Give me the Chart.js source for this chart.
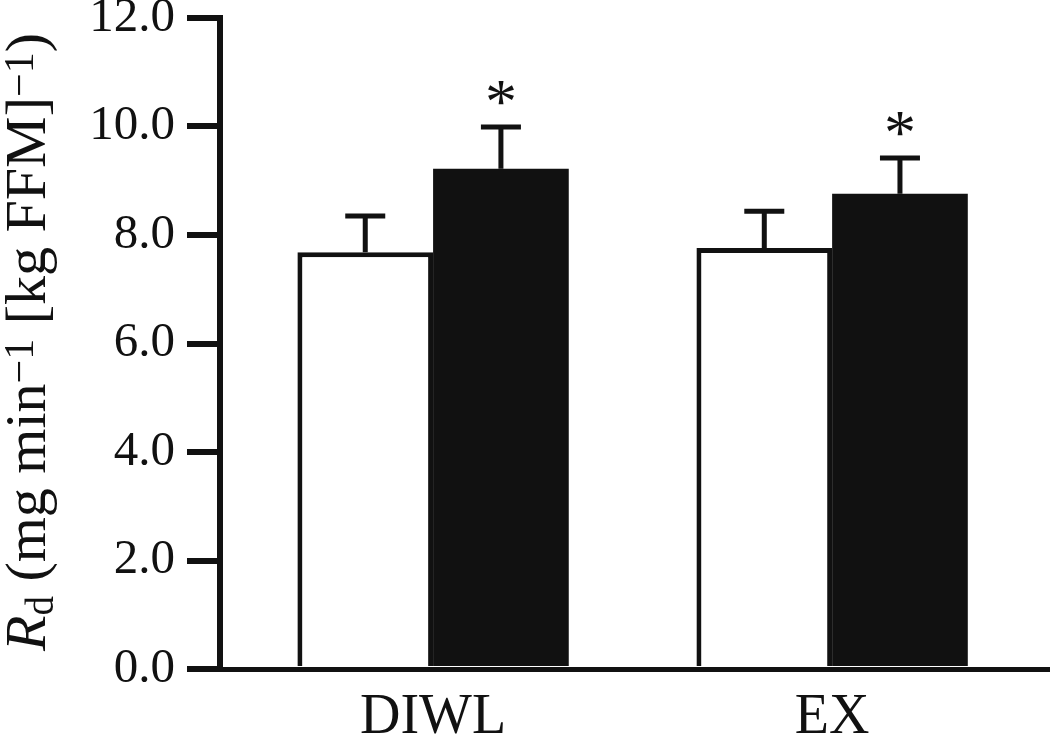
<!DOCTYPE html>
<html>
<head>
<meta charset="utf-8">
<script src="https://cdn.jsdelivr.net/npm/chart.js@4.4.1/dist/chart.umd.min.js"></script>
<style>
  html, body { margin: 0; padding: 0; background: #fff; font-family: 'Liberation Serif', serif; }
  #wrap { width: 1050px; height: 735px; position: relative; }
</style>
</head>
<body>
<div id="wrap"><canvas id="rdChart"></canvas></div>
<script>
// groups on the x axis
const categories = ['DIWL', 'EX'];
// open bars (before) and filled bars (after), mean and SD
const beforeMean = [7.68, 7.76];
const beforeSD = [0.67, 0.68];
const afterMean = [9.22, 8.76];
const afterSD = [0.77, 0.66];
// significance marks (*) over the filled bars
const beforeStar = [false, false];
const afterStar = [true, true];
const yTicks = [0, 2, 4, 6, 8, 10, 12];

const ink = '#111111';
const serif = '"Liberation Serif", "Times New Roman", Times, serif';

const toPoints = (vals) => vals.map((v, i) => ({ x: i + 1, y: v }));

// error bars (upper half only) + asterisks
const errorBars = {
  id: 'errorBars',
  afterDatasetsDraw(chart) {
    const ctx = chart.ctx;
    const y = chart.scales.y;
    ctx.save();
    ctx.strokeStyle = ink;
    ctx.fillStyle = ink;
    ctx.lineWidth = 5;
    ctx.lineCap = 'butt';
    chart.data.datasets.forEach((ds, di) => {
      const meta = chart.getDatasetMeta(di);
      meta.data.forEach((bar, i) => {
        const top = y.getPixelForValue(ds.data[i].y + ds.sd[i]);
        ctx.beginPath();
        ctx.moveTo(bar.x, bar.y);
        ctx.lineTo(bar.x, top);
        ctx.moveTo(bar.x - 20, top);
        ctx.lineTo(bar.x + 20, top);
        ctx.stroke();
        if (ds.star[i]) {
          ctx.font = '64px ' + serif;
          ctx.textAlign = 'center';
          ctx.textBaseline = 'alphabetic';
          const m = ctx.measureText('*');
          const mid = (m.actualBoundingBoxAscent - m.actualBoundingBoxDescent) / 2;
          ctx.fillText('*', bar.x, top - 34 + mid);
        }
      });
    });
    ctx.restore();
  }
};

// rotated y title with italic R, subscript d and superscripts
const yTitle = {
  id: 'yTitle',
  afterDraw(chart) {
    const ctx = chart.ctx;
    const size = 58;
    const sub = Math.round(size * 0.68);
    const sup = Math.round(size * 0.72);
    const parts = [
      { t: 'R', font: 'italic ' + size + 'px ' + serif, dy: 0 },
      { t: 'd', font: sub + 'px ' + serif, dy: size * 0.14 },
      { t: ' (mg min', font: size + 'px ' + serif, dy: 0 },
      { t: '\u22121', font: sup + 'px ' + serif, dy: -size * 0.2 },
      { t: ' [kg FFM]', font: size + 'px ' + serif, dy: 0 },
      { t: '\u22121', font: sup + 'px ' + serif, dy: -size * 0.2 },
      { t: ')', font: size + 'px ' + serif, dy: 0 }
    ];
    ctx.save();
    let total = 0;
    parts.forEach(p => { ctx.font = p.font; p.w = ctx.measureText(p.t).width; total += p.w; });
    ctx.translate(45, 342);
    ctx.rotate(-Math.PI / 2);
    ctx.fillStyle = ink;
    ctx.textBaseline = 'alphabetic';
    ctx.textAlign = 'left';
    let x = -total / 2;
    parts.forEach(p => {
      ctx.font = p.font;
      ctx.fillText(p.t, x, p.dy);
      x += p.w;
    });
    ctx.restore();
  }
};

function drawChart() {
  new Chart(document.getElementById('rdChart'), {
    type: 'bar',
    data: {
      datasets: [
        {
          label: 'before',
          data: toPoints(beforeMean),
          sd: beforeSD,
          star: beforeStar,
          backgroundColor: '#ffffff',
          borderColor: ink,
          borderWidth: 5,
          borderSkipped: 'start'
        },
        {
          label: 'after',
          data: toPoints(afterMean),
          sd: afterSD,
          star: afterStar,
          backgroundColor: ink,
          borderColor: ink,
          borderWidth: 0
        }
      ]
    },
    options: {
      responsive: true,
      maintainAspectRatio: false,
      animation: false,
      layout: { padding: { top: 18, right: 0, left: 0, bottom: 0 } },
      plugins: {
        legend: { display: false },
        tooltip: { enabled: false }
      },
      datasets: {
        bar: { categoryPercentage: 0.68, barPercentage: 1.0, grouped: true }
      },
      scales: {
        x: {
          type: 'linear',
          offset: false,
          min: 0.466,
          max: 2.546,
          grid: { display: false },
          border: { display: true, color: ink, width: 5 },
          afterBuildTicks: (scale) => {
            scale.ticks = categories.map((c, i) => ({ value: i + 1 }));
          },
          afterFit: (scale) => { scale.height = 66; scale.paddingLeft = 0; scale.paddingRight = 0; },
          ticks: {
            autoSkip: false,
            maxRotation: 0,
            padding: 8,
            color: ink,
            font: { family: serif, size: 56 },
            callback: (v) => categories[Math.round(v) - 1] || ''
          }
        },
        y: {
          min: 0,
          max: 12,
          grid: {
            display: true,
            drawOnChartArea: false,
            drawTicks: true,
            tickLength: 33,
            tickWidth: 6,
            tickColor: ink,
            lineWidth: 6,
            color: ink
          },
          border: { display: true, color: ink, width: 6 },
          afterBuildTicks: (scale) => {
            scale.ticks = yTicks.map(v => ({ value: v }));
          },
          afterFit: (scale) => { scale.width = 220; scale.paddingTop = 0; scale.paddingBottom = 0; },
          ticks: {
            padding: 12,
            color: ink,
            font: { family: serif, size: 49 },
            callback: (v) => v.toFixed(1)
          }
        }
      }
    },
    plugins: [errorBars, yTitle]
  });
}

Promise.all([
  document.fonts.load('56px "Liberation Serif"'),
  document.fonts.load('italic 56px "Liberation Serif"')
]).then(drawChart, drawChart);
</script>
</body>
</html>
